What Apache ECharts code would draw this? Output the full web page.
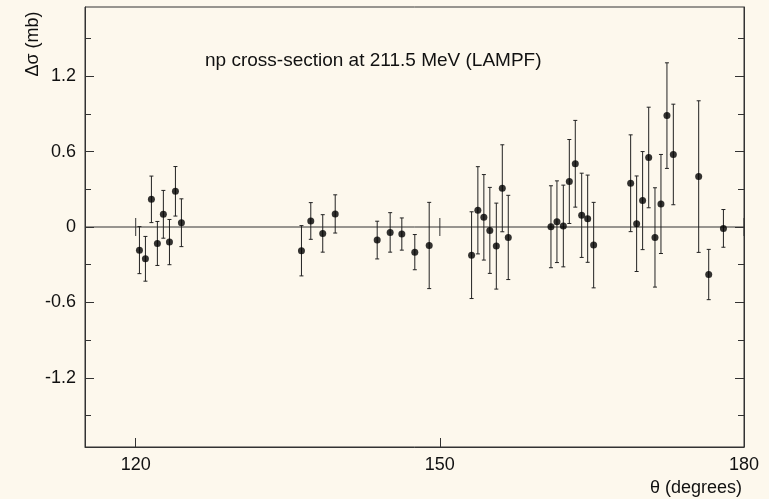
<!DOCTYPE html>
<html>
<head>
<meta charset="utf-8">
<script src="https://cdn.jsdelivr.net/npm/echarts@6/dist/echarts.min.js"></script>
<style>html,body{margin:0;padding:0;background:#fdf8ed;}#c{width:769px;height:499px;}</style>
</head>
<body>
<div id="c"></div>
<script>
// Data
const theta = [120.37, 120.96, 121.55, 122.14, 122.73, 123.33, 123.92, 124.51,
  136.35, 137.27, 138.45, 139.68, 143.82, 145.10, 146.25, 147.53, 148.95,
  153.13, 153.75, 154.34, 154.93, 155.57, 156.16, 156.75,
  160.96, 161.55, 162.18, 162.77, 163.36, 163.99, 164.58, 165.17,
  168.82, 169.41, 170.00, 170.60, 171.22, 171.81, 172.40, 173.03,
  175.53, 176.52, 177.97];
const dsigma = [-0.184, -0.253, 0.220, -0.131, 0.101, -0.120, 0.284, 0.034,
  -0.189, 0.048, -0.051, 0.104, -0.104, -0.043, -0.056, -0.200, -0.147,
  -0.224, 0.133, 0.077, -0.027, -0.152, 0.308, -0.083,
  0.002, 0.042, 0.008, 0.362, 0.503, 0.093, 0.066, -0.144,
  0.348, 0.026, 0.210, 0.553, -0.083, 0.183, 0.886, 0.577,
  0.401, -0.378, -0.011];
const errors = [0.187, 0.178, 0.185, 0.175, 0.190, 0.180, 0.197, 0.190,
  0.200, 0.146, 0.149, 0.152, 0.150, 0.157, 0.128, 0.140, 0.343,
  0.345, 0.347, 0.340, 0.342, 0.342, 0.346, 0.335,
  0.326, 0.325, 0.325, 0.334, 0.345, 0.335, 0.347, 0.340,
  0.385, 0.380, 0.390, 0.400, 0.395, 0.394, 0.420, 0.400,
  0.603, 0.200, 0.150];
const xTicks = [120, 150, 180];
const yMajorTicks = [-1.2, -0.6, 0, 0.6, 1.2];
const yMinorTicks = [-1.5, -0.9, -0.3, 0.3, 0.9, 1.5];
const titleText = 'np cross-section at 211.5 MeV (LAMPF)';
const xName = 'θ (degrees)';
const yName = 'Δσ (mb)';

const FONT = '"Liberation Sans", Arial, Helvetica, sans-serif';
const AX = '#333';
const pts = theta.map((t, i) => [t, dsigma[i], errors[i]]);

const chart = echarts.init(document.getElementById('c'), null, {renderer: 'canvas'});

const yBase = {type: 'value', min: -1.75, max: 1.75, splitLine: {show: false}, splitArea: {show: false}};

chart.setOption({
  backgroundColor: '#fdf8ed',
  animation: false,
  title: {
    text: titleText, left: 200, top: 46,
    textStyle: {fontFamily: FONT, fontSize: 19, fontWeight: 'normal', color: '#111'}
  },
  grid: {left: 85, right: 25, top: 7, bottom: 52, containLabel: false,
    show: true, borderColor: AX, borderWidth: 1, backgroundColor: 'transparent'},
  xAxis: [
    {
      type: 'value', min: 115, max: 180, position: 'bottom',
      splitLine: {show: false}, splitArea: {show: false}, minorTick: {show: false},
      axisLine: {show: true, onZero: false, lineStyle: {color: AX, width: 1}},
      axisTick: {show: true, inside: true, length: 9, customValues: xTicks, lineStyle: {color: AX}},
      axisLabel: {show: true, customValues: xTicks, margin: 9, fontFamily: FONT, fontSize: 18, color: '#111'}
    }
  ],
  yAxis: [
    Object.assign({}, yBase, {
      position: 'left',
      axisLine: {show: true, onZero: false, lineStyle: {color: AX, width: 1}},
      axisTick: {show: true, inside: true, length: 9, customValues: yMajorTicks, lineStyle: {color: AX}},
      axisLabel: {show: true, customValues: yMajorTicks, margin: 9, fontFamily: FONT, fontSize: 18, color: '#111'}
    }),
    Object.assign({}, yBase, {
      position: 'left',
      axisLine: {show: false, onZero: false},
      axisTick: {show: true, inside: true, length: 6, customValues: yMinorTicks, lineStyle: {color: AX}},
      axisLabel: {show: false}
    }),
    Object.assign({}, yBase, {
      position: 'right',
      axisLine: {show: true, onZero: false, lineStyle: {color: AX, width: 1}},
      axisTick: {show: true, inside: true, length: 9, customValues: yMajorTicks, lineStyle: {color: AX}},
      axisLabel: {show: false}
    }),
    Object.assign({}, yBase, {
      position: 'right',
      axisLine: {show: false, onZero: false},
      axisTick: {show: true, inside: true, length: 6, customValues: yMinorTicks, lineStyle: {color: AX}},
      axisLabel: {show: false}
    })
  ],
  graphic: [
    {type: 'text', x: 33, y: 44, rotation: Math.PI / 2,
      style: {text: yName, fontFamily: FONT, fontSize: 18, fill: '#111', align: 'center', verticalAlign: 'middle'}},
    {type: 'text', x: 742, y: 488,
      style: {text: xName, fontFamily: FONT, fontSize: 18, fill: '#111', align: 'right', verticalAlign: 'middle'}}
  ],
  series: [
    {
      // zero line with its tick marks at the major theta values
      type: 'custom', xAxisIndex: 0, yAxisIndex: 0,
      data: xTicks.map(v => [v, 0]),
      encode: {x: 0, y: 1},
      silent: true,
      renderItem: function (params, api) {
        const p = api.coord([api.value(0), 0]);
        const st = {stroke: AX, lineWidth: 1};
        const children = [
          {type: 'line', shape: {x1: p[0], y1: p[1] - 9, x2: p[0], y2: p[1] + 9}, style: st}
        ];
        if (params.dataIndex === 0) {
          const l = api.coord([115, 0]);
          const r = api.coord([180, 0]);
          children.push({type: 'line', shape: {x1: l[0], y1: l[1], x2: r[0], y2: r[1]}, style: st});
        }
        return {type: 'group', children: children};
      },
      z: 1
    },
    {
      type: 'custom', xAxisIndex: 0, yAxisIndex: 0,
      data: pts,
      encode: {x: 0, y: 1},
      renderItem: function (params, api) {
        const x = api.value(0), y = api.value(1), e = api.value(2);
        const top = api.coord([x, y + e]);
        const bot = api.coord([x, y - e]);
        const st = {stroke: '#222', lineWidth: 1};
        return {
          type: 'group',
          children: [
            {type: 'line', shape: {x1: top[0], y1: top[1], x2: bot[0], y2: bot[1]}, style: st},
            {type: 'line', shape: {x1: top[0] - 2, y1: top[1], x2: top[0] + 2, y2: top[1]}, style: st},
            {type: 'line', shape: {x1: bot[0] - 2, y1: bot[1], x2: bot[0] + 2, y2: bot[1]}, style: st}
          ]
        };
      },
      z: 2
    },
    {
      type: 'scatter', xAxisIndex: 0, yAxisIndex: 0,
      data: pts.map(p => [p[0], p[1]]),
      symbol: 'circle', symbolSize: 7,
      itemStyle: {color: '#000'},
      z: 3
    }
  ]
});
</script>
</body>
</html>
